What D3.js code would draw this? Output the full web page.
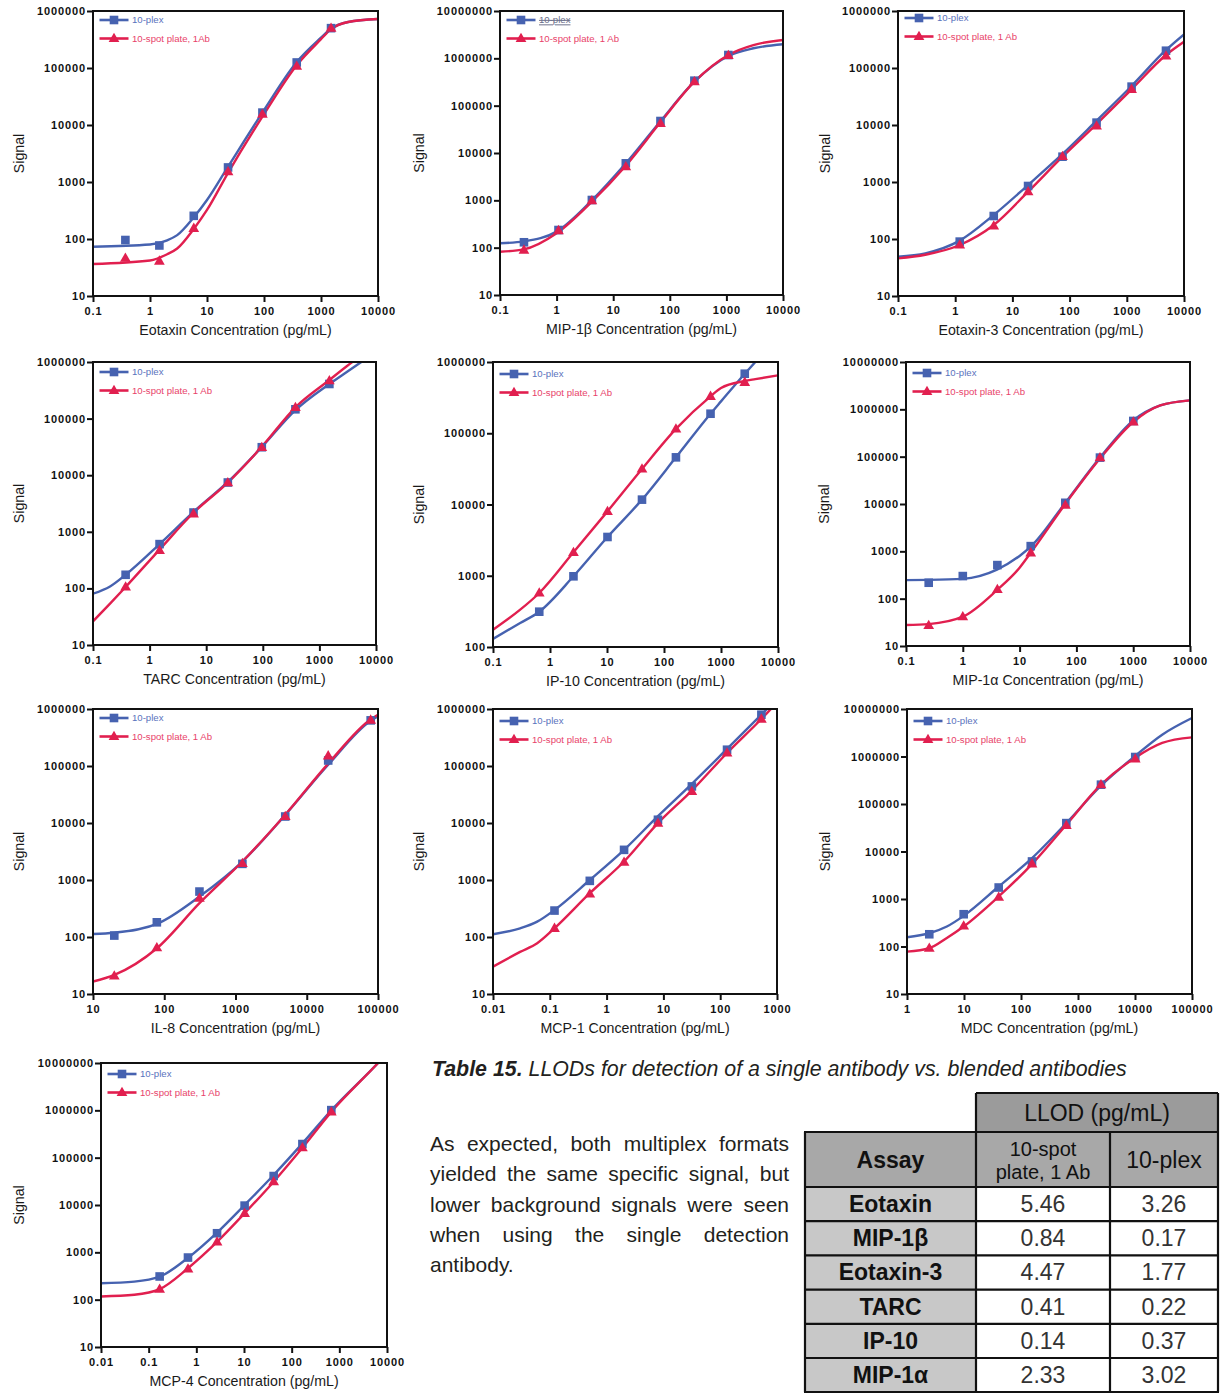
<!DOCTYPE html>
<html>
<head>
<meta charset="utf-8">
<title>Single vs blended detection antibodies</title>
<script src="https://d3js.org/d3.v7.min.js"></script>
<style>
  body { margin: 0; background: #fff; }
  svg { display: block; font-family: "Liberation Sans", Arial, sans-serif; }
</style>
</head>
<body>
<svg id="page" width="1220" height="1393"></svg>
<script>

// ---- standard curves: marker points (conc in pg/mL, signal) ----
var eotaxinConc = [0.37, 1.46, 5.86, 23.4, 93.8, 375, 1500];
var eotaxinPlex = [96, 77, 255, 1800, 16500, 125000, 500000];
var eotaxinSpot = [46, 41, 154, 1520, 15500, 108000, 500000];
var eotaxinFitConc = [0.1, 1, 2, 3, 5.86, 10, 23.4, 100, 375, 1000, 1500, 3000, 10000];
var eotaxinPlexFit = [73, 80, 95, 117, 240, 483, 1860, 18200, 127000, 340000, 490000, 640000, 722000];
var eotaxinSpotFit = [36.5, 42, 54, 68, 150, 323, 1450, 15500, 112000, 320000, 480000, 640000, 722000];

var mip1bConc = [0.265, 1.08, 4.2, 16.7, 68.4, 272, 1083];
var mip1bPlex = [130, 236, 1016, 6050, 47400, 337000, 1175000];
var mip1bSpot = [89, 230, 985, 5140, 42400, 320000, 1150000];
var mip1bFitConc = [0.1, 0.265, 1, 4.2, 16.7, 68.4, 272, 1083, 3000, 10000];
var mip1bPlexFit = [124, 136, 218, 1000, 6050, 47000, 321000, 1120000, 1630000, 1980000];
var mip1bSpotFit = [82, 92, 201, 937, 5400, 44500, 321000, 1180000, 1910000, 2440000];

var eotaxin3Conc = [1.2, 4.72, 18.8, 75.2, 296, 1213, 4842];
var eotaxin3Plex = [90, 253, 851, 2780, 11000, 47100, 201000];
var eotaxin3Spot = [78.5, 169, 676, 2800, 9600, 42300, 163000];
var eotaxin3FitConc = [0.1, 0.3, 1.2, 4.72, 18.8, 75.2, 296, 1213, 4842, 10000];
var eotaxin3PlexFit = [49, 56, 93.6, 264, 885, 3100, 11900, 48300, 207000, 390000];
var eotaxin3SpotFit = [45.8, 53, 78.5, 176, 676, 2780, 10400, 42300, 169000, 288000];

var tarcConc = [0.377, 1.5, 5.97, 24.1, 96, 377, 1500];
var tarcPlex = [174, 606, 2190, 7430, 31200, 146000, 409000];
var tarcSpot = [106, 469, 2080, 7400, 31000, 158000, 469000];
var tarcFitConc = [0.1, 0.2, 0.377, 1.5, 5.97, 24.1, 96, 377, 1500, 3000, 5500, 10000];
var tarcPlexFit = [80.6, 108, 174, 606, 2250, 7600, 31500, 141000, 409000, 661000, 1000000, 1500000];
var tarcSpotFit = [26.2, 54, 106, 485, 2170, 7400, 31800, 158000, 481000, 835000, 1300000, 1900000];

var ip10Conc = [0.648, 2.58, 10.2, 41.1, 162, 655, 2610];
var ip10Plex = [313, 982, 3500, 11700, 45900, 188000, 685000];
var ip10Spot = [573, 2130, 8010, 31500, 115000, 330000, 519000];
var ip10FitConc = [0.1, 0.3, 0.648, 2.58, 10.2, 41.1, 162, 655, 1000, 2610, 4000, 10000];
var ip10PlexFit = [130, 217, 313, 982, 3500, 11700, 45900, 188000, 280000, 685000, 1000000, 2500000];
var ip10SpotFit = [175, 334, 573, 2130, 8010, 31500, 115000, 330000, 432000, 541000, 575000, 650000];

var mip1aConc = [0.251, 1.0, 4.06, 15.7, 63.8, 260, 1004];
var mip1aPlex = [217, 300, 512, 1288, 10600, 95500, 568000];
var mip1aSpot = [27.3, 41.6, 157, 931, 9440, 95000, 541000];
var mip1aFitConc = [0.1, 0.25, 1, 4, 10, 15.7, 63.8, 260, 1004, 3000, 10000];
var mip1aPlexFit = [247, 249, 262, 410, 800, 1250, 10600, 95500, 586000, 1210000, 1550000];
var mip1aSpotFit = [27.7, 29, 41.6, 152, 450, 931, 10000, 91000, 541000, 1210000, 1550000];

var il8Conc = [19.9, 78.7, 312, 1250, 4990, 20000, 78900];
var il8Plex = [106, 181, 627, 1920, 13000, 125000, 632000];
var il8Spot = [20.7, 65.2, 479, 1950, 13000, 151000, 640000];
var il8FitConc = [10, 20, 79, 312, 1250, 5000, 20000, 80000, 100000];
var il8PlexFit = [113, 119, 170, 513, 2110, 13900, 105000, 630000, 743000];
var il8SpotFit = [16.5, 21.6, 63.4, 392, 2110, 14000, 110000, 667000, 795000];

var mcp1Conc = [0.121, 0.506, 2.03, 8.02, 31.7, 132, 531];
var mcp1Plex = [291, 966, 3380, 11400, 43800, 193000, 794000];
var mcp1Spot = [142, 570, 2060, 9950, 35800, 169000, 667000];
var mcp1FitConc = [0.01, 0.03, 0.06, 0.121, 0.506, 2.03, 8.02, 31.7, 132, 531, 1000];
var mcp1PlexFit = [112, 142, 186, 298, 1000, 3380, 13200, 48700, 199000, 794000, 1500000];
var mcp1SpotFit = [30.2, 54.7, 77.6, 142, 586, 2110, 9950, 37100, 169000, 667000, 1300000];

var mdcConc = [2.46, 9.87, 40.6, 156, 624, 2530, 10100];
var mdcPlex = [181, 478, 1745, 6170, 39600, 255000, 975000];
var mdcSpot = [91.8, 272, 1090, 5510, 35400, 255000, 885000];
var mdcFitConc = [1, 2.46, 5, 9.87, 40.6, 156, 624, 2530, 10100, 30000, 100000];
var mdcPlexFit = [157, 190, 263, 441, 1830, 7240, 39600, 243000, 1030000, 2880000, 6460000];
var mdcSpotFit = [78, 91.8, 151, 263, 1130, 5420, 36600, 255000, 944000, 1930000, 2530000];

var mcp4Conc = [0.17, 0.668, 2.72, 10.3, 41.9, 168, 679];
var mcp4Plex = [309, 776, 2530, 9710, 40900, 194000, 1010000];
var mcp4Spot = [167, 448, 1660, 6680, 31100, 162000, 929000];
var mcp4FitConc = [0.01, 0.05, 0.17, 0.668, 2.72, 10.3, 41.9, 168, 679, 6500, 10000];
var mcp4PlexFit = [223, 240, 305, 764, 2610, 10000, 43000, 200000, 1000000, 10000000, 16000000];
var mcp4SpotFit = [117, 127, 167, 462, 1660, 6680, 31100, 162000, 929000, 10000000, 16000000];

// decade ticks used on both axes
var decadeTicks = [0.01, 0.1, 1, 10, 100, 1000, 10000, 100000, 1000000, 10000000];

// ---- Table 15 ----
var assayNames = ["Eotaxin", "MIP-1\u03B2", "Eotaxin-3", "TARC", "IP-10", "MIP-1\u03B1"];
var spotLlod = ["5.46", "0.84", "4.47", "0.41", "0.14", "2.33"];
var plexLlod = ["3.26", "0.17", "1.77", "0.22", "0.37", "3.02"];

var paraLines = [
  "As expected, both multiplex formats",
  "yielded the same specific signal, but",
  "lower background signals were seen",
  "when using the single detection",
  "antibody."
];

var blue = "#4662b0", red = "#e11f4f";
var blueText = "#5a73bd", redText = "#e8436a";

var panels = [
  {conc: eotaxinConc, plex: eotaxinPlex, spot: eotaxinSpot, fitConc: eotaxinFitConc, plexFit: eotaxinPlexFit, spotFit: eotaxinSpotFit,
   xDomain: [0.1, 1e4], yDomain: [10, 1e6], box: [93, 11, 378, 296], signalX: 24, legDy: 9,
   title: "Eotaxin Concentration (pg/mL)", spotLabel: "10-spot plate, 1Ab"},
  {conc: mip1bConc, plex: mip1bPlex, spot: mip1bSpot, fitConc: mip1bFitConc, plexFit: mip1bPlexFit, spotFit: mip1bSpotFit,
   xDomain: [0.1, 1e4], yDomain: [10, 1e7], box: [500, 11, 783, 295], signalX: 424, legDy: 9, struck: true,
   title: "MIP-1\u03B2 Concentration (pg/mL)", spotLabel: "10-spot plate, 1 Ab"},
  {conc: eotaxin3Conc, plex: eotaxin3Plex, spot: eotaxin3Spot, fitConc: eotaxin3FitConc, plexFit: eotaxin3PlexFit, spotFit: eotaxin3SpotFit,
   xDomain: [0.1, 1e4], yDomain: [10, 1e6], box: [898, 11, 1184, 296], signalX: 830, legDy: 7,
   title: "Eotaxin-3 Concentration (pg/mL)", spotLabel: "10-spot plate, 1 Ab"},
  {conc: tarcConc, plex: tarcPlex, spot: tarcSpot, fitConc: tarcFitConc, plexFit: tarcPlexFit, spotFit: tarcSpotFit,
   xDomain: [0.1, 1e4], yDomain: [10, 1e6], box: [93, 362, 376, 645], signalX: 24, legDy: 10,
   title: "TARC Concentration (pg/mL)", spotLabel: "10-spot plate, 1 Ab"},
  {conc: ip10Conc, plex: ip10Plex, spot: ip10Spot, fitConc: ip10FitConc, plexFit: ip10PlexFit, spotFit: ip10SpotFit,
   xDomain: [0.1, 1e4], yDomain: [100, 1e6], box: [493, 362, 778, 647], signalX: 424, legDy: 12,
   title: "IP-10 Concentration (pg/mL)", spotLabel: "10-spot plate, 1 Ab"},
  {conc: mip1aConc, plex: mip1aPlex, spot: mip1aSpot, fitConc: mip1aFitConc, plexFit: mip1aPlexFit, spotFit: mip1aSpotFit,
   xDomain: [0.1, 1e4], yDomain: [10, 1e7], box: [906, 362, 1190, 646], signalX: 829, legDy: 11,
   title: "MIP-1\u03B1 Concentration (pg/mL)", spotLabel: "10-spot plate, 1 Ab"},
  {conc: il8Conc, plex: il8Plex, spot: il8Spot, fitConc: il8FitConc, plexFit: il8PlexFit, spotFit: il8SpotFit,
   xDomain: [10, 1e5], yDomain: [10, 1e6], box: [93, 709, 378, 994], signalX: 24, legDy: 9,
   title: "IL-8 Concentration (pg/mL)", spotLabel: "10-spot plate, 1 Ab"},
  {conc: mcp1Conc, plex: mcp1Plex, spot: mcp1Spot, fitConc: mcp1FitConc, plexFit: mcp1PlexFit, spotFit: mcp1SpotFit,
   xDomain: [0.01, 1000], yDomain: [10, 1e6], box: [493, 709, 777, 994], signalX: 424, legDy: 12,
   title: "MCP-1 Concentration (pg/mL)", spotLabel: "10-spot plate, 1 Ab"},
  {conc: mdcConc, plex: mdcPlex, spot: mdcSpot, fitConc: mdcFitConc, plexFit: mdcPlexFit, spotFit: mdcSpotFit,
   xDomain: [1, 1e5], yDomain: [10, 1e7], box: [907, 709, 1192, 994], signalX: 830, legDy: 12,
   title: "MDC Concentration (pg/mL)", spotLabel: "10-spot plate, 1 Ab"},
  {conc: mcp4Conc, plex: mcp4Plex, spot: mcp4Spot, fitConc: mcp4FitConc, plexFit: mcp4PlexFit, spotFit: mcp4SpotFit,
   xDomain: [0.01, 1e4], yDomain: [10, 1e7], box: [101, 1063, 387, 1347], signalX: 24, legDy: 11,
   title: "MCP-4 Concentration (pg/mL)", spotLabel: "10-spot plate, 1 Ab"}
];

var svg = d3.select("#page");
var tri = d3.symbol().type(d3.symbolTriangle).size(50);

function marker(g, shape, cx, cy, color) {
  if (shape === "square") {
    g.append("rect").attr("x", cx - 4.3).attr("y", cy - 4.3).attr("width", 8.6).attr("height", 8.6).attr("fill", color);
  } else {
    g.append("path").attr("d", tri).attr("transform", "translate(" + cx + "," + (cy + 0.5) + ")").attr("fill", color);
  }
}

function drawPanel(p, i) {
  var L = p.box[0], T = p.box[1], R = p.box[2], B = p.box[3];
  var x = d3.scaleLog().domain(p.xDomain).range([L, R]);
  var y = d3.scaleLog().domain(p.yDomain).range([B, T]);
  var g = svg.append("g");

  g.append("clipPath").attr("id", "clip" + i)
    .append("rect").attr("x", L).attr("y", T).attr("width", R - L).attr("height", B - T);

  var line = d3.line().x(d => x(d[0])).y(d => y(d[1])).curve(d3.curveMonotoneX);
  var series = [
    {fit: p.plexFit, vals: p.plex, color: blue, shape: "square"},
    {fit: p.spotFit, vals: p.spot, color: red, shape: "triangle"}
  ];

  series.forEach(s => {
    g.append("path")
      .attr("clip-path", "url(#clip" + i + ")")
      .attr("d", line(p.fitConc.map((c, k) => [c, s.fit[k]])))
      .attr("fill", "none").attr("stroke", s.color).attr("stroke-width", 2.4);
  });
  series.forEach(s => {
    p.conc.forEach((c, k) => marker(g, s.shape, x(c), y(s.vals[k]), s.color));
  });

  // frame
  g.append("rect").attr("x", L).attr("y", T).attr("width", R - L).attr("height", B - T)
    .attr("fill", "none").attr("stroke", "#111").attr("stroke-width", 2);

  var xt = decadeTicks.filter(v => v >= p.xDomain[0] * 0.999 && v <= p.xDomain[1] * 1.001);
  var yt = decadeTicks.filter(v => v >= p.yDomain[0] * 0.999 && v <= p.yDomain[1] * 1.001);

  var xa = g.append("g").attr("transform", "translate(0," + B + ")")
    .call(d3.axisBottom(x).tickValues(xt).tickFormat(d => String(d)).tickSize(6).tickPadding(5).tickSizeOuter(0));
  var ya = g.append("g").attr("transform", "translate(" + L + ",0)")
    .call(d3.axisLeft(y).tickValues(yt).tickFormat(d => String(d)).tickSize(6).tickPadding(1).tickSizeOuter(0));
  [xa, ya].forEach(a => {
    a.select(".domain").remove();
    a.selectAll("line").attr("stroke", "#111").attr("stroke-width", 2);
    a.selectAll("text").attr("fill", "#111").style("font-size", "11px").style("font-weight", "bold")
      .style("letter-spacing", "0.9px").style("font-family", "'Liberation Sans', Arial, sans-serif");
  });

  // axis titles
  g.append("text").attr("x", (L + R) / 2).attr("y", B + 38.5).attr("text-anchor", "middle")
    .style("font-size", "14.2px").attr("fill", "#1a1a1a").text(p.title);
  g.append("text").attr("transform", "translate(" + p.signalX + "," + ((T + B) / 2) + ") rotate(-90)")
    .attr("text-anchor", "middle").style("font-size", "14.2px").attr("fill", "#1a1a1a").text("Signal");

  // legend
  var leg = [
    {label: "10-plex", color: blue, tc: blueText, shape: "square"},
    {label: p.spotLabel, color: red, tc: redText, shape: "triangle"}
  ];
  leg.forEach((l, k) => {
    var ly = T + p.legDy + k * 18.5;
    g.append("line").attr("x1", L + 6.5).attr("x2", L + 35.5).attr("y1", ly).attr("y2", ly)
      .attr("stroke", l.color).attr("stroke-width", 2.6);
    marker(g, l.shape, L + 21, ly, l.color);
    var t = g.append("text").attr("x", L + 39).attr("y", ly).attr("dy", "0.35em")
      .style("font-size", "9.6px").attr("fill", l.tc).text(l.label);
    if (p.struck && k === 0) t.attr("fill", "#6b6f8a").style("text-decoration", "underline line-through");
  });
}

panels.forEach(drawPanel);

// ---- caption, paragraph and table ----
var ink = "#231f20";

// scale a text element so it spans exactly `w` px
function squeeze(t, x, yb, w, anchor) {
  var nat = t.node().getComputedTextLength();
  var s = w / nat;
  t.attr("x", 0).attr("y", 0).attr("text-anchor", anchor || "start")
    .attr("transform", "translate(" + x + "," + yb + ") scale(" + s + ",1)");
}

var cap = svg.append("text").style("font-size", "22px").style("font-style", "italic").attr("fill", ink);
cap.append("tspan").style("font-weight", "bold").text("Table 15.");
cap.append("tspan").text(" LLODs for detection of a single antibody vs. blended antibodies");
squeeze(cap, 432, 1076, 695);

// justified paragraph
var paraX = 430, paraW = 359, paraTop = 1151, paraLead = 30.3;
paraLines.forEach((ln, i) => {
  var words = ln.split(" ");
  var yb = paraTop + i * paraLead;
  var nodes = words.map(w => svg.append("text").attr("y", yb).style("font-size", "21px").attr("fill", ink).text(w));
  var widths = nodes.map(n => n.node().getComputedTextLength());
  var total = d3.sum(widths);
  var last = i === paraLines.length - 1;
  var gap = last ? 5.6 : (paraW - total) / (words.length - 1);
  var cx = paraX;
  nodes.forEach((n, k) => { n.attr("x", cx); cx += widths[k] + gap; });
});

// table geometry
var tL = 805, tC1 = 976, tC2 = 1110, tR = 1218;
var tTop = 1093, hTop = 1132, hBot = 1187, rowH = 34.2;
var tb = svg.append("g");
tb.append("rect").attr("x", tC1).attr("y", tTop).attr("width", tR - tC1).attr("height", hTop - tTop).attr("fill", "#9b9b9b");
tb.append("rect").attr("x", tL).attr("y", hTop).attr("width", tR - tL).attr("height", hBot - hTop).attr("fill", "#a8a8a8");
assayNames.forEach((a, i) => {
  var top = hBot + i * rowH;
  tb.append("rect").attr("x", tL).attr("y", top).attr("width", tC1 - tL).attr("height", rowH).attr("fill", "#c8c8c8");
  tb.append("text").attr("x", (tL + tC1) / 2).attr("y", top + 25).attr("text-anchor", "middle")
    .style("font-size", "23px").style("font-weight", "bold").attr("fill", "#111").text(a);
  tb.append("text").attr("x", (tC1 + tC2) / 2).attr("y", top + 25).attr("text-anchor", "middle")
    .style("font-size", "23px").attr("fill", "#333").text(spotLlod[i]);
  tb.append("text").attr("x", (tC2 + tR) / 2).attr("y", top + 25).attr("text-anchor", "middle")
    .style("font-size", "23px").attr("fill", "#333").text(plexLlod[i]);
});
var tBot = hBot + assayNames.length * rowH;

// header texts
tb.append("text").attr("x", (tC1 + tR) / 2).attr("y", 1120.5).attr("text-anchor", "middle")
  .style("font-size", "23px").attr("fill", "#111").text("LLOD (pg/mL)");
tb.append("text").attr("x", (tL + tC1) / 2).attr("y", 1168).attr("text-anchor", "middle")
  .style("font-size", "23px").style("font-weight", "bold").attr("fill", "#111").text("Assay");
tb.append("text").attr("x", (tC1 + tC2) / 2).attr("y", 1155.5).attr("text-anchor", "middle")
  .style("font-size", "20px").attr("fill", "#111").text("10-spot");
tb.append("text").attr("x", (tC1 + tC2) / 2).attr("y", 1179).attr("text-anchor", "middle")
  .style("font-size", "20px").attr("fill", "#111").text("plate, 1 Ab");
tb.append("text").attr("x", (tC2 + tR) / 2).attr("y", 1168).attr("text-anchor", "middle")
  .style("font-size", "23px").attr("fill", "#111").text("10-plex");

// grid lines
var gl = tb.append("g").attr("stroke", "#111").attr("stroke-width", 2.2);
gl.append("line").attr("x1", tC1).attr("x2", tR).attr("y1", tTop).attr("y2", tTop);
gl.append("line").attr("x1", tC1).attr("x2", tC1).attr("y1", tTop).attr("y2", tBot);
gl.append("line").attr("x1", tR).attr("x2", tR).attr("y1", tTop).attr("y2", tBot);
gl.append("line").attr("x1", tL).attr("x2", tL).attr("y1", hTop).attr("y2", tBot);
gl.append("line").attr("x1", tC2).attr("x2", tC2).attr("y1", hTop).attr("y2", tBot);
d3.range(assayNames.length + 2).forEach(k => {
  var yy = k === 0 ? hTop : hBot + (k - 1) * rowH;
  gl.append("line").attr("x1", tL - 1).attr("x2", tR + 1).attr("y1", yy).attr("y2", yy);
});

</script>
</body>
</html>
